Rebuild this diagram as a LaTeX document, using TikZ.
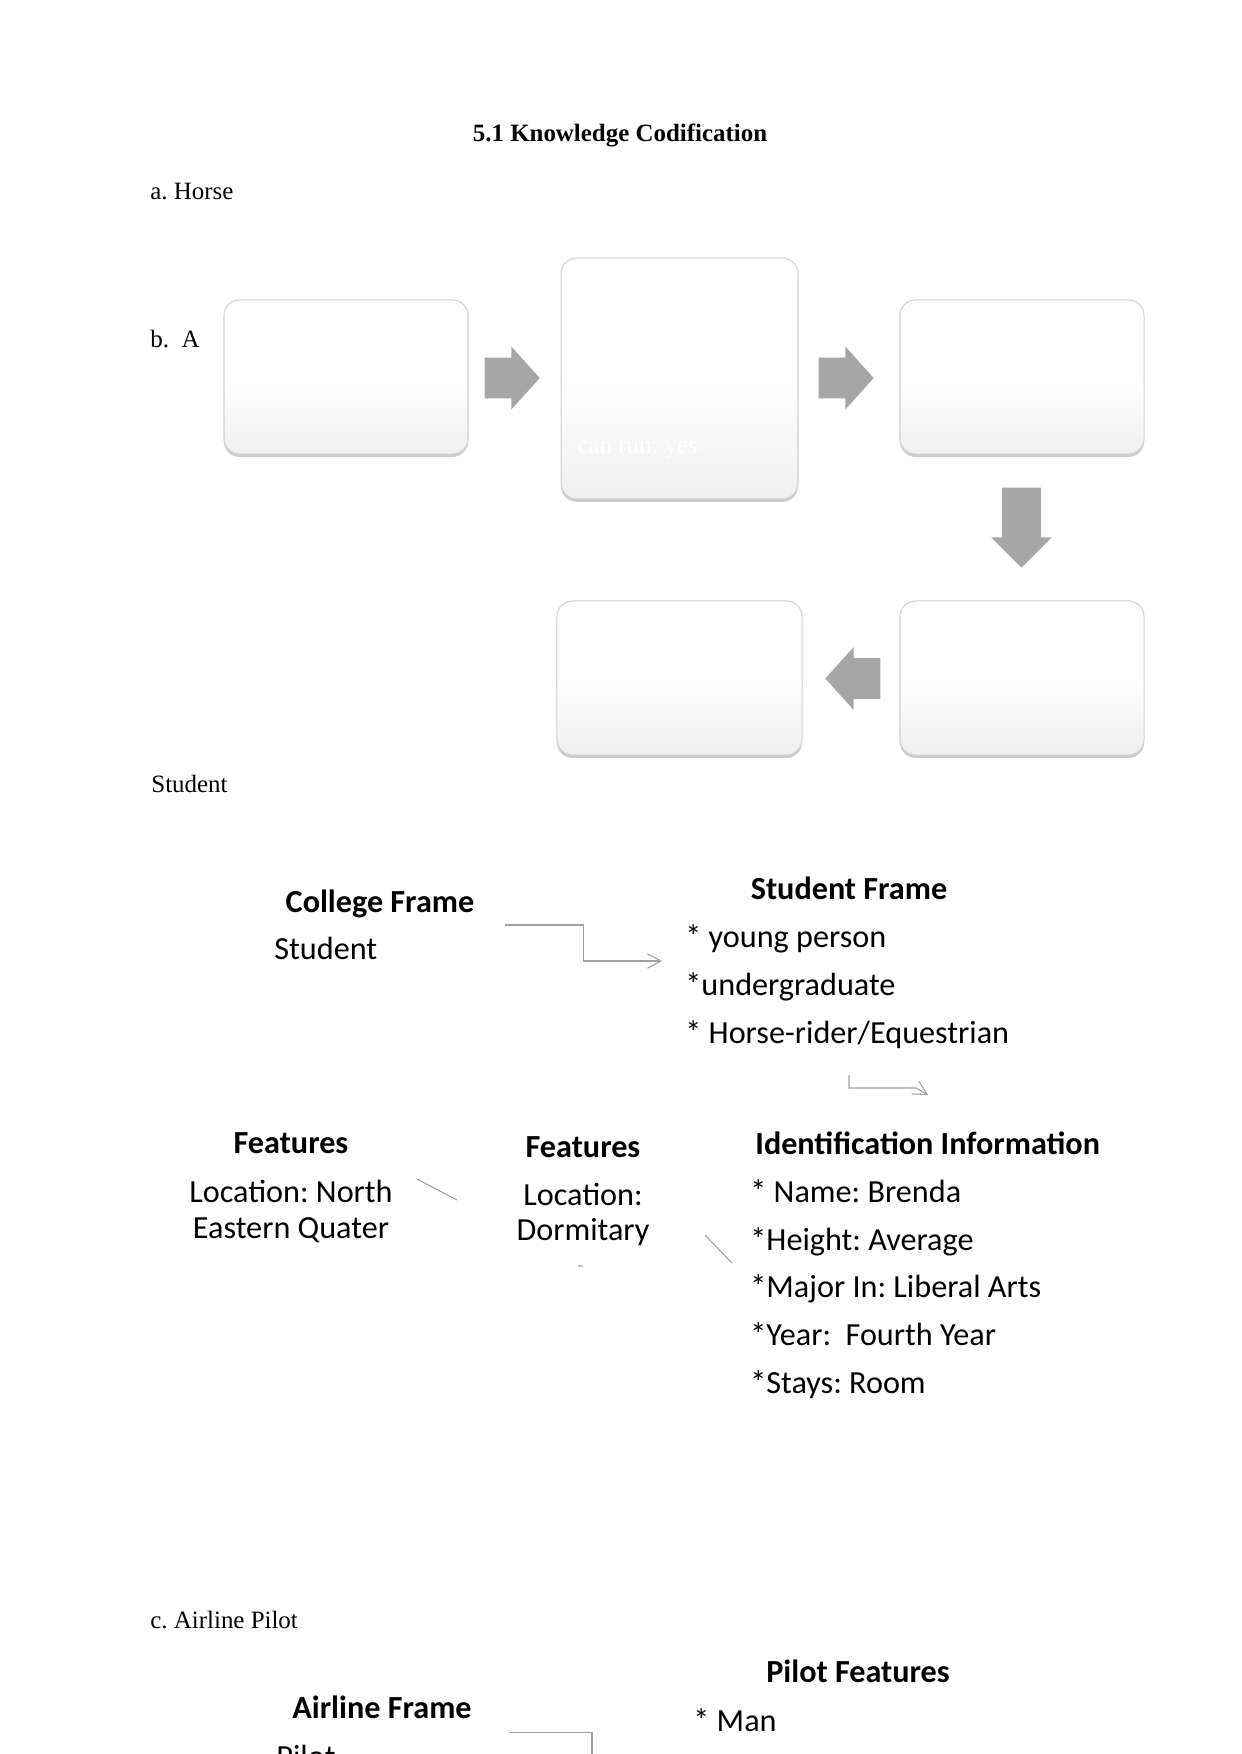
\documentclass[tikz,border=0pt]{standalone}
\usepackage{fontspec}
\setmainfont{Liberation Serif}
\newfontfamily\calibrifont{Carlito}
\usetikzlibrary{shapes.arrows,shadows,calc,arrows.meta}

\definecolor{arrowgray}{RGB}{166,166,166}
\definecolor{linkgray}{RGB}{160,160,160}
\pgfdeclareverticalshading{boxfade}{100bp}{color(0bp)=(black!12); color(30bp)=(black!5); color(50bp)=(white); color(100bp)=(white)}

\tikzset{
  doctext/.style={anchor=base west, inner sep=0pt, font=\frenchspacing\fontsize{12}{14}\selectfont},
  stepbox/.style={rectangle, rounded corners=7.5pt, draw=black!18, line width=0.5pt,
    shading=boxfade, inner sep=0pt,
    drop shadow={shadow xshift=0pt, shadow yshift=-1.4pt, opacity=0.4}},
  flowarrow/.style={single arrow, fill=arrowgray, draw=none, inner xsep=0pt, inner ysep=9.6pt,
    minimum height=26.5pt, minimum width=29.9pt, single arrow head extend=5.3pt,
    single arrow tip angle=96},
  framehead/.style={anchor=base, inner sep=0pt, font=\calibrifont\frenchspacing\bfseries\fontsize{15.5}{19}\selectfont},
  frameline/.style={anchor=base west, inner sep=0pt, font=\calibrifont\frenchspacing\fontsize{15.5}{19}\selectfont},
  featline/.style={anchor=base, inner sep=0pt, font=\calibrifont\frenchspacing\fontsize{15.5}{19}\selectfont},
  link/.style={draw=linkgray, line width=0.5pt},
  linktip/.style={-{Straight Barb[length=6.5pt,width=7pt,line width=0.5pt]}},
}

\begin{document}
\begin{tikzpicture}[x=0.4815pt, y=-0.4815pt]
      \useasboundingbox (0,0) rectangle (1241,1754);
      \fill[white] (0,0) rectangle (1241,1754);
      \clip (0,0) rectangle (1241,1754);

      % Page text
      \node[doctext, anchor=base, font=\bfseries\fontsize{12}{14}\selectfont] (title) at (620,141) {5.1 Knowledge Codification};
      \node[doctext] (horse) at (150,199) {a. Horse};
      \node[doctext] (partb) at (150,347) {b.\ \ A};
      \node[doctext] (student) at (151,792) {Student};
      \node[doctext] (partc) at (150,1628) {c. Airline Pilot};

      % Horse boxes
      \node[stepbox, minimum width=117.5pt, minimum height=74.2pt] (box1) at (346,377) {};
      \node[stepbox, minimum width=114.1pt, minimum height=116pt] (box2) at (679.5,378.5) {};
      \node[stepbox, minimum width=117.5pt, minimum height=74.2pt] (box3) at (1022,377) {};
      \node[stepbox, minimum width=117.5pt, minimum height=74.2pt] (box4) at (1022,678) {};
      \node[stepbox, minimum width=118pt, minimum height=74.2pt] (box5) at (679.5,678) {};
      \node[doctext, text=white] (runtxt) at (577,453) {can run: yes};

      % Block arrows
      \node[flowarrow] (arr1) at (503,378) {};
      \node[flowarrow] (arr2) at (837,378) {};
      \node[flowarrow, rotate=-90, minimum height=38.5pt, minimum width=28.9pt, inner ysep=9.15pt, single arrow tip angle=90] (arr3) at (1021.5,518) {};
      \node[flowarrow, rotate=180] (arr4) at (862,678.5) {};

      % Student frames
      \node[framehead] (college) at (380,912) {College Frame};
      \node[frameline] (collegestu) at (274,959) {Student};
      \node[framehead] (stuframe) at (849,899) {Student Frame};
      \node[frameline] (stu1) at (685,947) {* young person};
      \node[frameline] (stu2) at (685,995) {*undergraduate};
      \node[frameline] (stu3) at (685,1043) {* Horse-rider/Equestrian};

      \node[framehead] (feat1) at (291,1153) {Features};
      \node[featline] (feat1a) at (291,1202) {Location: North};
      \node[featline] (feat1b) at (291,1238) {Eastern Quater};
      \node[framehead] (feat2) at (583,1157) {Features};
      \node[featline] (feat2a) at (583,1205) {Location:};
      \node[featline] (feat2b) at (583,1240) {Dormitary};

      \node[frameline, font=\calibrifont\frenchspacing\bfseries\fontsize{15.5}{19}\selectfont] (ident) at (755,1154) {Identification Information};
      \node[frameline] (id1) at (750,1202) {* Name: Brenda};
      \node[frameline] (id2) at (750,1250) {*Height: Average};
      \node[frameline] (id3) at (750,1297) {*Major In: Liberal Arts};
      \node[frameline] (id4) at (750,1345) {*Year:\ \ Fourth Year};
      \node[frameline] (id5) at (750,1393) {*Stays: Room};

      % Pilot frames
      \node[framehead] (airline) at (382,1718) {Airline Frame};
      \node[frameline] (airpilot) at (276,1767) {Pilot};
      \node[framehead] (pilotfeat) at (858,1682) {Pilot Features};
      \node[frameline] (pilot1) at (693,1731) {* Man};

      % Connectors
      \coordinate (c1s) at (505,925);
      \coordinate (c1e) at (662,961);
      \draw[link, linktip] (c1s) -| ($(c1s)!.5!(c1e)$) |- (c1e);
      \coordinate (c2s) at (849,1075);
      \coordinate (c2m) at (916,1088);
      \coordinate (c2e) at (928,1095);
      \draw[link, linktip] (c2s) |- (c2m) -- (c2e);
      \coordinate (d1s) at (417,1179);
      \coordinate (d1e) at (457,1200);
      \draw[link] (d1s) -- (d1e);
      \coordinate (d2s) at (705,1235);
      \coordinate (d2e) at (732,1263);
      \draw[link] (d2s) -- (d2e);
      \coordinate (dashs) at (578,1266);
      \coordinate (dashe) at (583,1266);
      \draw[link, draw=black!25] (dashs) -- (dashe);
      \coordinate (c3s) at (509,1732);
      \coordinate (c3e) at (592,1770);
      \draw[link] (c3s) -| (c3e);
\end{tikzpicture}
\end{document}
